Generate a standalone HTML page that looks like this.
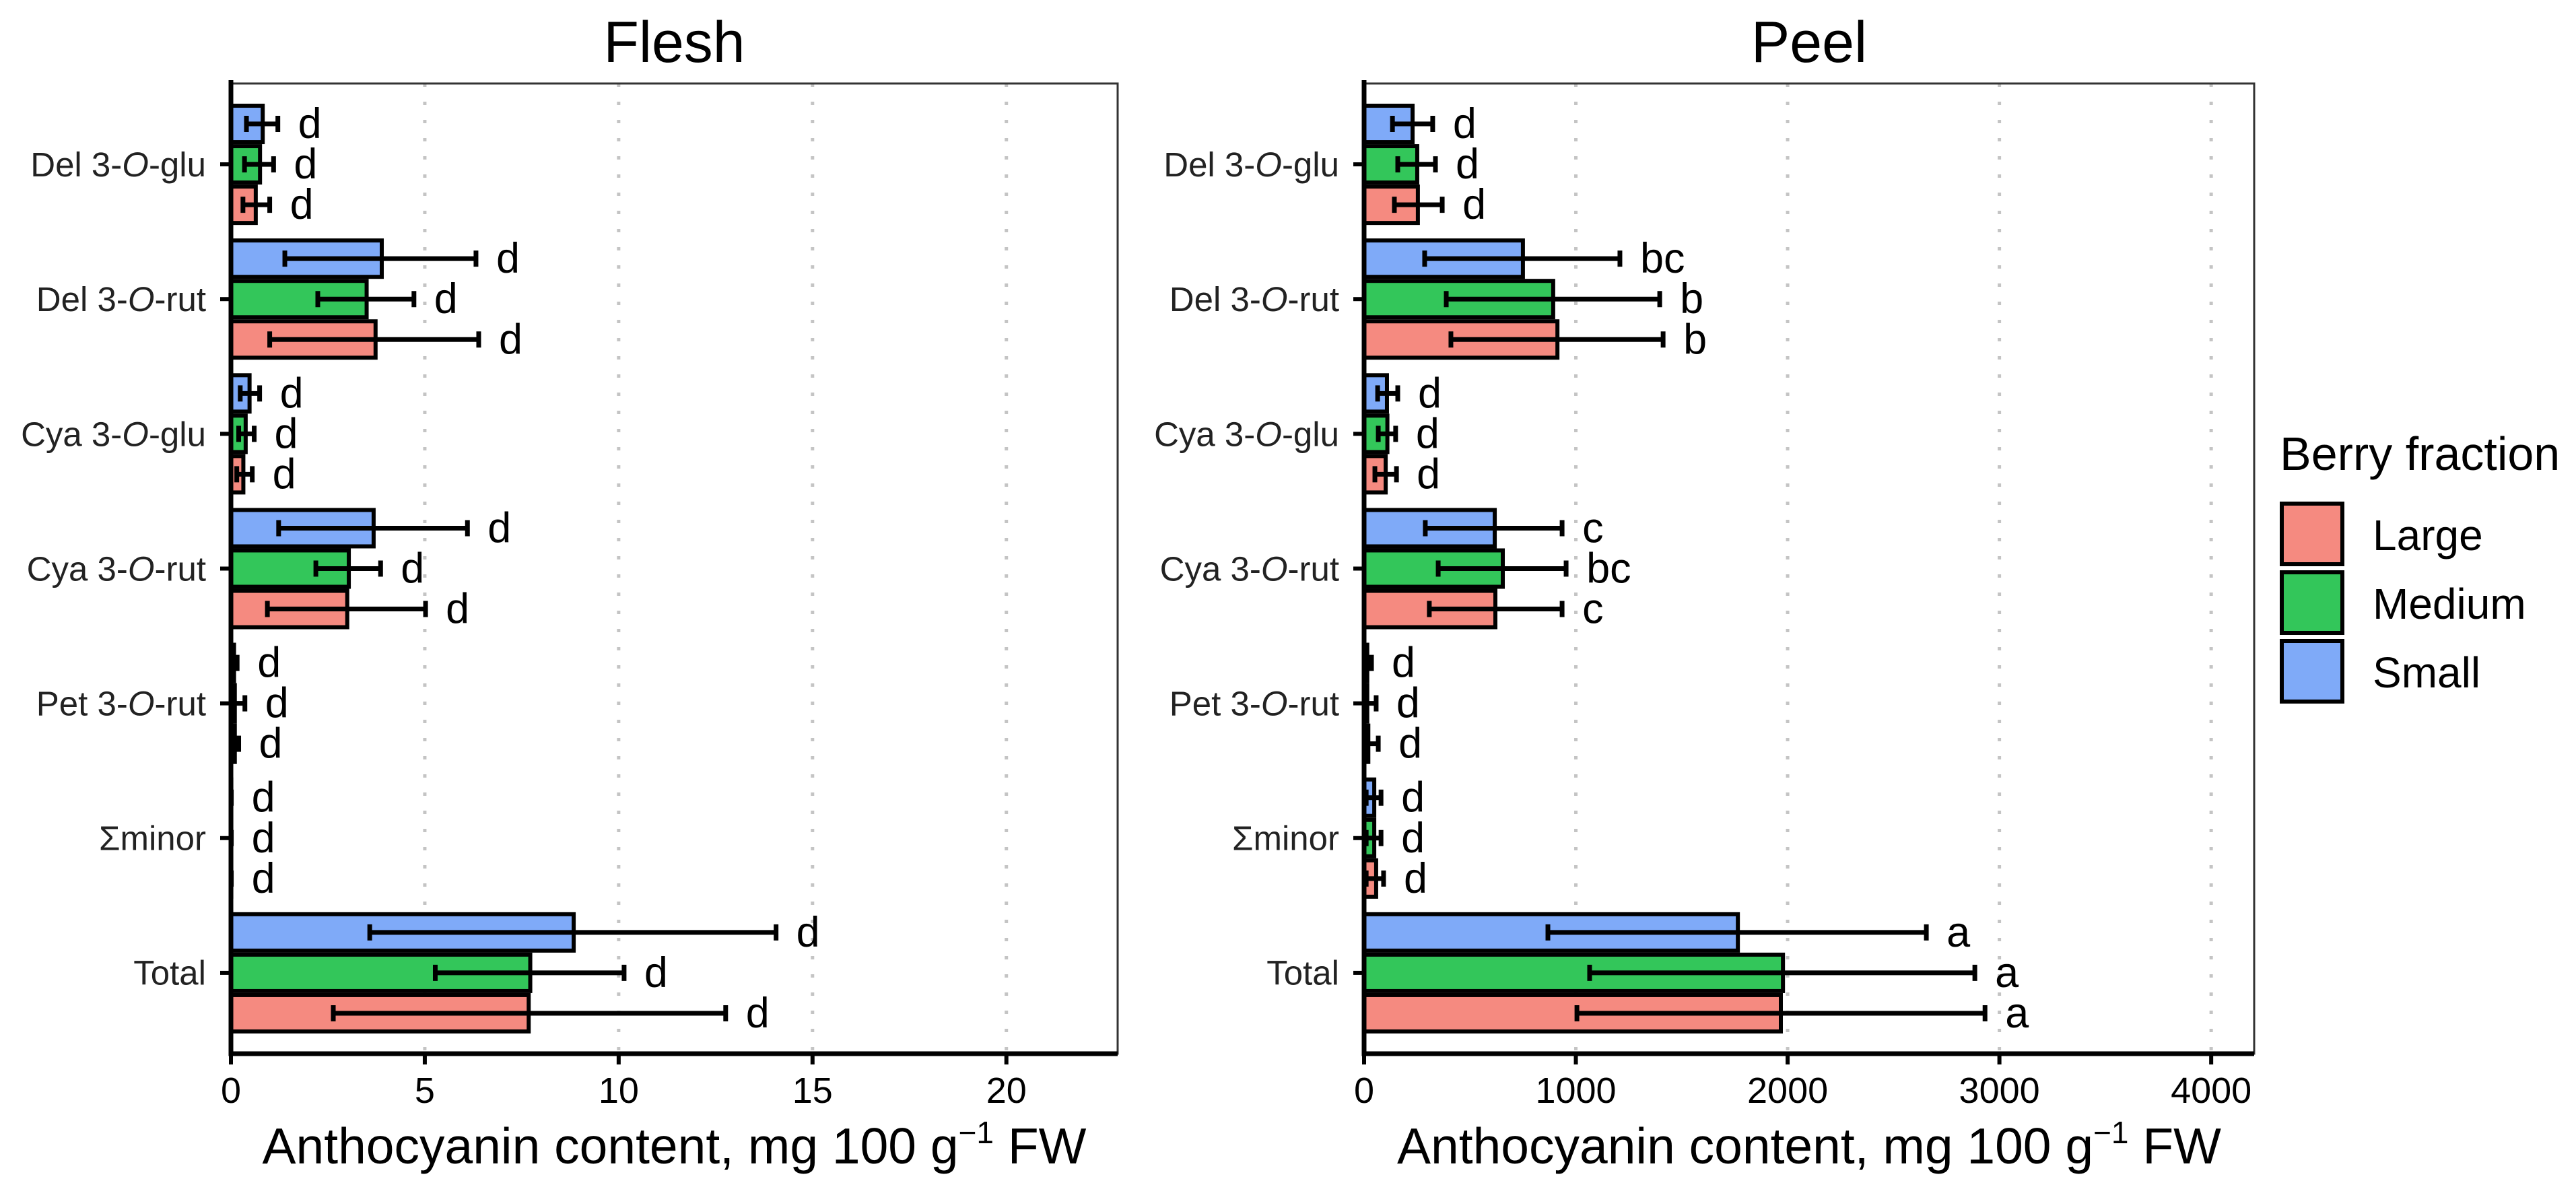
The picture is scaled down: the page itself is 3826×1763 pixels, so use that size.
<!DOCTYPE html>
<html><head><meta charset="utf-8"><style>
html,body{margin:0;padding:0;background:#fff;}
svg{display:block;font-family:"Liberation Sans",Arial,sans-serif;}
</style></head><body>
<svg id="chart" width="3826" height="1763" viewBox="0 0 3826 1763"></svg>
<script>
const categories = ["Del 3-O-glu","Del 3-O-rut","Cya 3-O-glu","Cya 3-O-rut","Pet 3-O-rut","\u03A3minor","Total"];
const seriesNames = ["Large","Medium","Small"];
const fleshLarge = [0.64,3.73,0.32,3.0,0.1,0.01,7.68];
const fleshLargeLo = [0.31,1.0,0.15,0.94,0.02,0,2.64];
const fleshLargeHi = [1.0,6.39,0.55,5.02,0.2,0.01,12.76];
const fleshMedium = [0.75,3.5,0.38,3.04,0.1,0.01,7.72];
const fleshMediumLo = [0.35,2.24,0.2,2.19,0.02,0,5.27];
const fleshMediumHi = [1.1,4.72,0.6,3.86,0.36,0.01,10.14];
const fleshSmall = [0.82,3.89,0.48,3.68,0.08,0.01,8.84];
const fleshSmallLo = [0.40,1.39,0.24,1.23,0.02,0,3.58];
const fleshSmallHi = [1.21,6.32,0.74,6.1,0.16,0.01,14.06];
const fleshLetters = [["d","d","d","d","d","d","d"],["d","d","d","d","d","d","d"],["d","d","d","d","d","d","d"]];
const peelLarge = [254,913,102,620,20,57,1968];
const peelLargeLo = [143,410,51,308,5,10,1005];
const peelLargeHi = [369,1412,153,935,67,92,2932];
const peelMedium = [251,893,110,655,15,48,1978];
const peelMediumLo = [159,388,67,350,5,10,1065];
const peelMediumHi = [337,1396,149,954,57,80,2884];
const peelSmall = [229,750,108,617,15,48,1765];
const peelSmallLo = [134,286,64,289,5,10,868];
const peelSmallHi = [324,1208,159,935,35,80,2655];
const peelLetters = [["d","b","d","c","d","d","a"],["d","b","d","bc","d","d","a"],["d","bc","d","c","d","d","a"]];
const fleshTicks = [0,5,10,15,20];
const peelTicks = [0,1000,2000,3000,4000];

const NS="http://www.w3.org/2000/svg";
const svg=document.getElementById('chart');
const colors=["#F58A80","#33C65A","#7FAAF8"];
function mk(tag,attrs,parent){const e=document.createElementNS(NS,tag);for(const k in attrs)e.setAttribute(k,attrs[k]);(parent||svg).appendChild(e);return e;}

const plotTop=124,plotBottom=1565,band=(plotBottom-plotTop)/7.2;
function yCat(i){return plotTop+(0.6+i)*band;}
const barH=band*0.3;
function yBar(i,s){return yCat(i)+(1-s)*barH;}

function panel(name,x0,x1,xmax,ticks,vals,los,his,letters,title){
  const g=mk('g',{});
  
  
  const sx=v=>x0+v/xmax*(x1-x0);
  ticks.forEach(t=>{ if(t===0)return;
    const l=mk('line',{x1:sx(t),x2:sx(t),y1:plotTop,y2:plotBottom,stroke:'#c4c4c4','stroke-width':5,'stroke-dasharray':'5 22'},g);
    
    
  });
  for(let s=0;s<3;s++){
    for(let i=0;i<7;i++){
      const cy=yBar(i,s);
      const w=sx(vals[s][i])-x0;
      const r=mk('rect',{x:x0,y:cy-barH/2+3,width:Math.max(w,0.5),height:barH-6,fill:colors[s],stroke:'#000','stroke-width':6},g);
      
      
      const lo=sx(los[s][i]),hi=sx(his[s][i]);
      const eb=mk('path',{d:`M${lo},${cy}H${hi}M${lo},${cy-12}V${cy+12}M${hi},${cy-12}V${cy+12}`,stroke:'#000','stroke-width':7,fill:'none'},g);
      
      
      const t=mk('text',{x:hi+30,y:cy,'font-size':63,'dominant-baseline':'central'},g);
      t.textContent=letters[s][i];
      
      
    }
  }
  const fr=mk('rect',{x:x0,y:plotTop,width:x1-x0,height:plotBottom-plotTop,fill:'none',stroke:'#333','stroke-width':3},g);
  
  
  const ax=mk('path',{d:`M${x0},${plotTop-5}V${plotBottom}H${x1}`,stroke:'#000','stroke-width':7,fill:'none'},g);
  
  
  ticks.forEach(t=>{
    const tk=mk('line',{x1:sx(t),x2:sx(t),y1:plotBottom,y2:plotBottom+16,stroke:'#000','stroke-width':6},g);
    
    
    const tl=mk('text',{x:sx(t),y:1638,'font-size':54,'text-anchor':'middle'},g);
    tl.textContent=t;
    
    
  });
  categories.forEach((c,i)=>{
    const y=yCat(i);
    const tk=mk('line',{x1:x0-16,x2:x0,y1:y,y2:y,stroke:'#000','stroke-width':6},g);
    
    
    const tl=mk('text',{x:x0-37,y:y,'font-size':51,'text-anchor':'end','dominant-baseline':'central',fill:'#222'},g);
    
    
    const m=c.match(/^(.*3-)O(-.*)$/);
    if(m){
      const a=mk('tspan',{},tl);a.textContent=m[1];
      const b=mk('tspan',{'font-style':'italic'},tl);b.textContent='O';
      const d=mk('tspan',{},tl);d.textContent=m[2];
    } else tl.textContent=c;
  });
  const tt=mk('text',{x:(x0+x1)/2,y:92,'font-size':86,'text-anchor':'middle'},g);
  tt.textContent=title;
  
  
  const xl=mk('text',{x:(x0+x1)/2,y:1728,'font-size':75,'text-anchor':'middle'},g);
  
  
  const p1=mk('tspan',{},xl);p1.textContent='Anthocyanin content, mg 100 g';
  const p2=mk('tspan',{dy:-30,'font-size':46},xl);p2.textContent='\u22121';
  const p3=mk('tspan',{dy:30},xl);p3.textContent=' FW';
}
panel('flesh',343,1660,22.87,fleshTicks,
  [fleshLarge,fleshMedium,fleshSmall],[fleshLargeLo,fleshMediumLo,fleshSmallLo],[fleshLargeHi,fleshMediumHi,fleshSmallHi],fleshLetters,'Flesh');
panel('peel',2026,3348,4203,peelTicks,
  [peelLarge,peelMedium,peelSmall],[peelLargeLo,peelMediumLo,peelSmallLo],[peelLargeHi,peelMediumHi,peelSmallHi],peelLetters,'Peel');

const lg=mk('g',{});


const lt=mk('text',{x:3386,y:698,'font-size':70},lg);
lt.textContent='Berry fraction';


seriesNames.forEach((n,k)=>{
  const y=745+k*102;
  const r=mk('rect',{x:3389,y:y+3,width:90,height:90,fill:colors[k],stroke:'#000','stroke-width':6},lg);
  
  
  const t=mk('text',{x:3524,y:y+72,'font-size':64},lg);
  t.textContent=n;
  
  
});
</script>
</body></html>
